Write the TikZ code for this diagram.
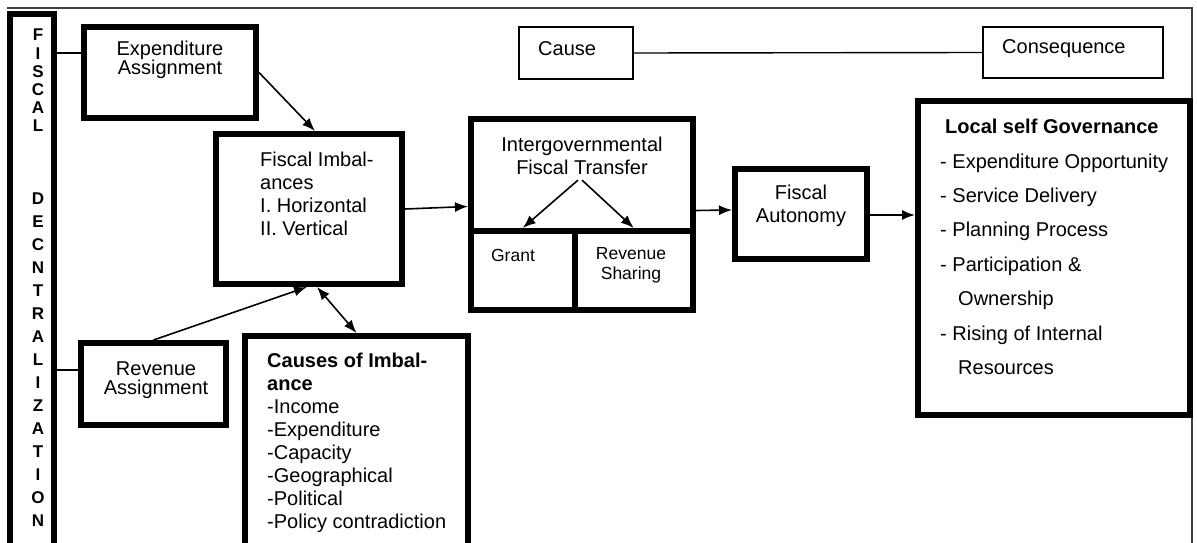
\documentclass[tikz,border=0pt]{standalone}
\usepackage{fontspec}
\setmainfont{Liberation Sans}
\usetikzlibrary{arrows.meta, calc}

\begin{document}
\begin{tikzpicture}[x = 1pt, y = -1pt,
 box/.style = {draw, line width = 6pt, inner sep = 0pt},
 smallbox/.style = {draw, line width = 1.4pt, inner sep = 0pt},
 txt/.style = {inner sep = 0pt, font = \fontsize{20}{23}\selectfont},
 bartxt/.style = {inner sep = 0pt, font = \fontsize{17}{17}\selectfont\bfseries},
 arr/.style = {line width = 1.6pt, -{Latex[length = 13pt, width = 10pt]}}]
 \useasboundingbox (0,0) rectangle (1197,543);
 \clip (0,0) rectangle (1197,543);
 \draw[line width = 1.5pt, black!75] (7,8) -- (1192,8) -- (1192,560);%外枠

 \node[box, minimum width = 44pt, minimum height = 585pt] (bar) at (32,307) {};
 \foreach \ch [count = \i] in {F,I,S,C,A,L}
  \node[bartxt] (fl\i) at (38,{35+18.2*(\i-1)}) {\ch};
 \foreach \ch [count = \i] in {D,E,C,N,T,R,A,L,I,Z,A,T,I,O,N}
  \node[bartxt] (dl\i) at (38,{199+23*(\i-1)}) {\ch};

 \node[box, minimum width = 172pt, minimum height = 91pt] (exp) at (170,72.5) {};
 \node[txt, align = center, font = \fontsize{20}{17}\selectfont] (exptxt) at (170,60) {Expenditure\\Assignment};
 \node[box, minimum width = 145pt, minimum height = 82pt] (rev) at (153.5,384) {};
 \node[txt, align = center, font = \fontsize{20}{19}\selectfont] (revtxt) at (156,380) {Revenue\\Assignment};

 \node[box, minimum width = 186pt, minimum height = 150pt] (fisc) at (309,209) {};
 \node[txt, align = left, anchor = north west] (fisctxt) at (260,152)
  {Fiscal Imbal-\\ances\\I. Horizontal\\II. Vertical};
 \node[box, minimum width = 223pt, minimum height = 264pt] (cau) at (356.5,468) {};
 \node[txt, align = left, anchor = north west] (cautxt) at (267,353)
  {\textbf{Causes of Imbal-}\\\textbf{ance}\\-Income\\-Expenditure\\-Capacity\\-Geographical\\-Political\\-Policy contradiction};

 \node[box, minimum width = 222pt, minimum height = 191pt] (igt) at (582,214.5) {};
 \node[txt, align = center, anchor = north] (igtxt) at (582,137) {Intergovernmental\\Fiscal Transfer};
 \node[box, minimum width = 103.5pt, minimum height = 79pt] (grant) at (522.75,270.5) {};
 \node[txt, font = \fontsize{17.5}{20}\selectfont] (granttxt) at (513,255.5) {Grant};
 \node[box, minimum width = 118.5pt, minimum height = 79pt] (rsh) at (633.75,270.5) {};
 \node[txt, align = center, font = \fontsize{17.5}{20}\selectfont] (rshtxt) at (631,265.5) {Revenue\\Sharing};

 \node[box, minimum width = 132pt, minimum height = 90pt] (auton) at (801,214) {};
 \node[txt, align = center] (autxt) at (801,205.5) {Fiscal\\Autonomy};
 \node[box, minimum width = 272pt, minimum height = 314pt] (lsg) at (1054,258) {};
 \node[txt, align = left, anchor = north west, font = \fontsize{20}{34.4}\selectfont] (lsgtxt) at (940,119)
  {\hspace*{5pt}\textbf{Local self Governance}\\- Expenditure Opportunity\\- Service Delivery\\- Planning Process\\- Participation \&\\\hspace*{18pt}Ownership\\- Rising of Internal\\\hspace*{18pt}Resources};

 \node[smallbox, minimum width = 114pt, minimum height = 52pt] (cause) at (576,53) {};
 \node[txt, anchor = west] (causetxt) at (538,49) {Cause};
 \node[smallbox, minimum width = 180pt, minimum height = 51pt] (conseq) at (1073,52.5) {};
 \node[txt, anchor = west] (conseqtxt) at (1002,49) {Consequence};

 \draw[line width = 1.2pt] ([yshift = 19.5pt]exp.west) -- ([yshift = 19.5pt]exp.west -| bar.east);
 \draw[line width = 1.2pt] ([yshift = 14pt]rev.west) -- ([yshift = 14pt]rev.west -| bar.east);
 \draw[arr] (exp.east) -- ([xshift = 6pt]fisc.north);
 \draw[arr] (rev.north) -- ([xshift = -2pt]fisc.south);
 \draw[arr, {Latex[length = 13pt, width = 10pt]}-{Latex[length = 13pt, width = 10pt]}] ([xshift = 8pt]fisc.south) -- (cau.north);
 \draw[arr] (fisc.east) -- ([yshift = 8pt]igt.west);
 \draw[arr] ([xshift = -4pt, yshift = -5pt]igtxt.south) -- (grant.north);
 \draw[arr] ([yshift = -5pt]igtxt.south) -- (rsh.north);
 \draw[arr] ([yshift = 4pt]igt.east) -- ([yshift = 4pt]auton.west);
 \draw[arr] ([yshift = -1pt]auton.east) -- ([yshift = -1pt]auton.east -| lsg.west);
 \draw[line width = 1.4pt] (cause.east) -- (conseq.west);
\end{tikzpicture}
\end{document}
